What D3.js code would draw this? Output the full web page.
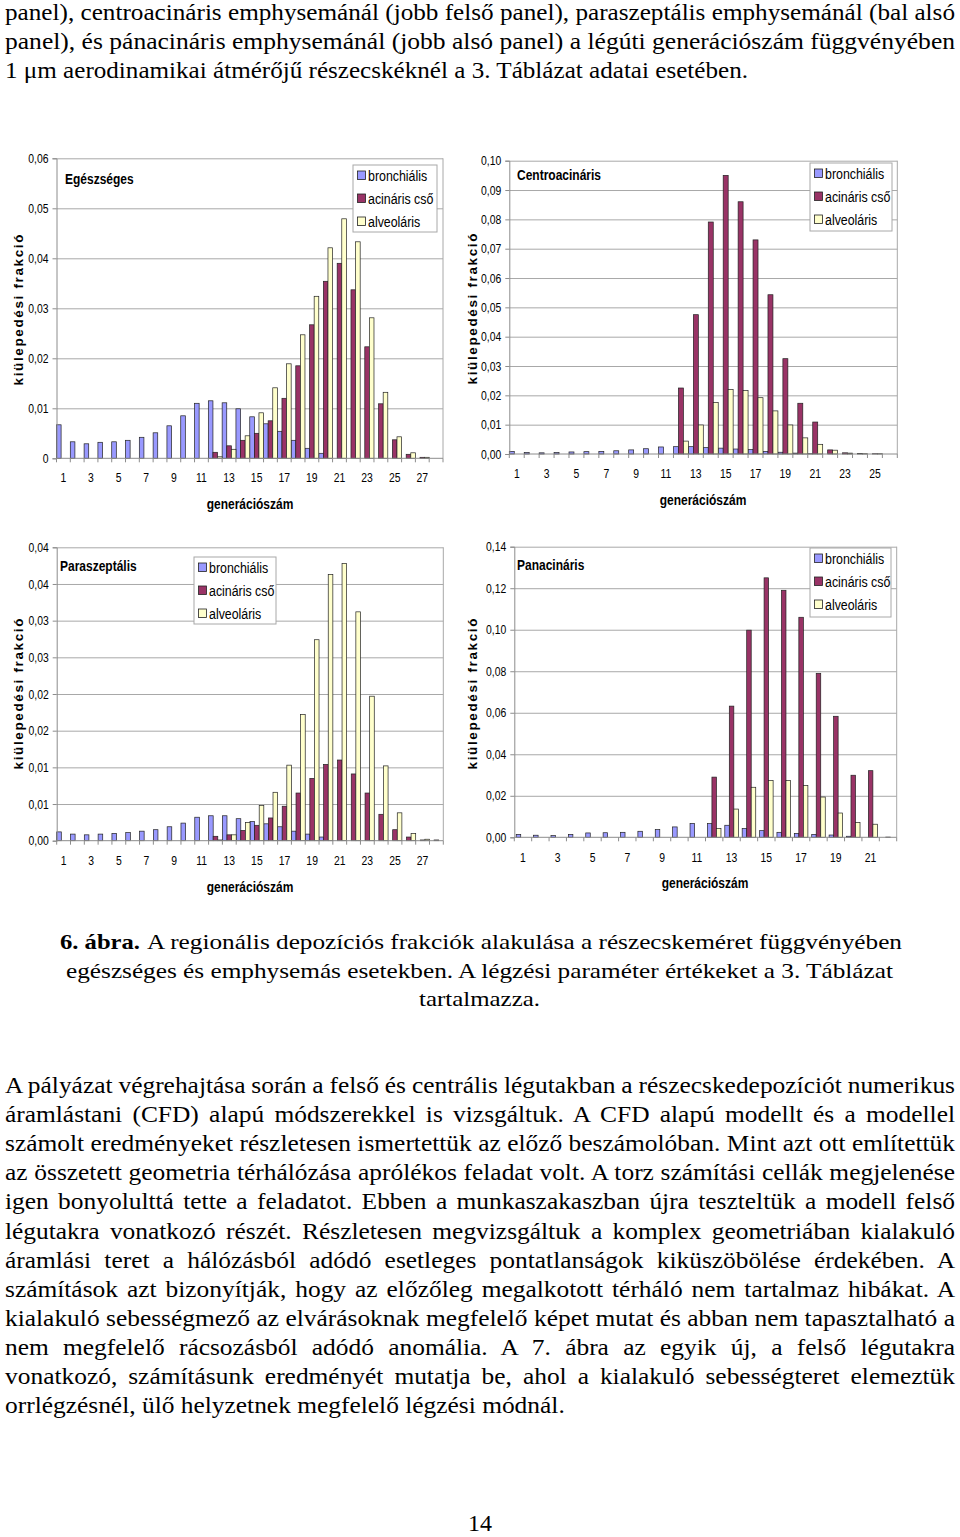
<!DOCTYPE html>
<html><head><meta charset="utf-8">
<script src="https://cdn.jsdelivr.net/npm/d3@7"></script>
<style>
html,body{margin:0;padding:0;background:#fff;}
svg{display:block;}
.serif{font-family:"Liberation Serif","Times New Roman",Times,serif;}
.sans{font-family:"Liberation Sans",Arial,Helvetica,sans-serif;}
</style></head>
<body>
<svg id="page" width="960" height="1537"></svg>
<script>
// ---------------- DATA ----------------
const seriesNames = ["bronchiális", "acináris cső", "alveoláris"];
const seriesColors = ["#9999FF", "#993366", "#FFFFCC"];

const catsHealthy = [1,2,3,4,5,6,7,8,9,10,11,12,13,14,15,16,17,18,19,20,21,22,23,24,25,26,27,28];
const healthyBronch = [0.0067,0.0033,0.0029,0.0032,0.0033,0.0036,0.0042,0.0051,0.0065,0.0085,0.0110,0.0115,0.0111,0.0099,0.0083,0.0069,0.0054,0.0036,0.0020,0.0010,0,0,0,0,0,0,0,0];
const healthyAcin  = [0,0,0,0,0,0,0,0,0,0,0,0.0012,0.0025,0.0036,0.0050,0.0075,0.0120,0.0185,0.0267,0.0354,0.0390,0.0337,0.0223,0.0109,0.0037,0.0008,0.0002,0];
const healthyAlv   = [0,0,0,0,0,0,0,0,0,0,0,0.0003,0.0018,0.0045,0.0091,0.0141,0.0189,0.0247,0.0324,0.0421,0.0479,0.0433,0.0281,0.0132,0.0043,0.0011,0.0002,0];
const healthyTicks = [0,0.01,0.02,0.03,0.04,0.05,0.06];
const healthyTickLabels = ["0","0,01","0,02","0,03","0,04","0,05","0,06"];

const catsCentro = [1,2,3,4,5,6,7,8,9,10,11,12,13,14,15,16,17,18,19,20,21,22,23,24,25,26];
const centroBronch = [0.0009,0.0005,0.0004,0.0005,0.0007,0.0008,0.0009,0.0011,0.0014,0.0018,0.0024,0.0025,0.0025,0.0022,0.0020,0.0017,0.0015,0.0009,0.0006,0.0003,0.0001,0,0,0,0,0];
const centroAcin   = [0,0,0,0,0,0,0,0,0,0,0,0.0225,0.0475,0.0791,0.0950,0.0860,0.0730,0.0543,0.0325,0.0173,0.0109,0.0014,0.0004,0.0002,0.0001,0];
const centroAlv    = [0,0,0,0,0,0,0,0,0,0,0,0.0044,0.0099,0.0176,0.0220,0.0216,0.0192,0.0147,0.0099,0.0055,0.0033,0.0013,0.0003,0.0001,0.0001,0];
const centroTicks = [0,0.01,0.02,0.03,0.04,0.05,0.06,0.07,0.08,0.09,0.10];
const centroTickLabels = ["0,00","0,01","0,02","0,03","0,04","0,05","0,06","0,07","0,08","0,09","0,10"];

const catsPara = [1,2,3,4,5,6,7,8,9,10,11,12,13,14,15,16,17,18,19,20,21,22,23,24,25,26,27,28];
const paraBronch = [0.0012,0.0009,0.0008,0.0009,0.0010,0.0011,0.0013,0.0015,0.0019,0.0024,0.0032,0.0034,0.0034,0.0030,0.0026,0.0023,0.0019,0.0013,0.0009,0.0005,0,0,0,0,0,0,0,0];
const paraAcin   = [0,0,0,0,0,0,0,0,0,0,0,0.0006,0.0008,0.0014,0.0021,0.0031,0.0047,0.0065,0.0085,0.0104,0.0110,0.0091,0.0065,0.0036,0.0015,0.0005,0.0001,0.0001];
const paraAlv    = [0,0,0,0,0,0,0,0,0,0,0,0.0001,0.0008,0.0025,0.0048,0.0066,0.0103,0.0172,0.0274,0.0363,0.0378,0.0312,0.0197,0.0102,0.0038,0.0010,0.0002,0];
const paraTicks = [0,0.005,0.01,0.015,0.02,0.025,0.03,0.035,0.04];
const paraTickLabels = ["0,00","0,01","0,01","0,02","0,02","0,03","0,03","0,04","0,04"];

const catsPan = [1,2,3,4,5,6,7,8,9,10,11,12,13,14,15,16,17,18,19,20,21,22];
const panBronch = [0.0014,0.0010,0.0008,0.0014,0.0021,0.0022,0.0024,0.0029,0.0037,0.0050,0.0067,0.0066,0.0058,0.0043,0.0032,0.0024,0.0019,0.0014,0.0011,0.0005,0,0];
const panAcin   = [0,0,0,0,0,0,0,0,0,0,0,0.0290,0.0632,0.0998,0.1250,0.1190,0.1060,0.0790,0.0583,0.0299,0.0321,0.0001];
const panAlv    = [0,0,0,0,0,0,0,0,0,0,0,0.0043,0.0136,0.0241,0.0273,0.0273,0.0250,0.0194,0.0117,0.0072,0.0063,0];
const panTicks = [0,0.02,0.04,0.06,0.08,0.10,0.12,0.14];
const panTickLabels = ["0,00","0,02","0,04","0,06","0,08","0,10","0,12","0,14"];

const yAxisTitle = "kiülepedési frakció";
const xAxisTitle = "generációszám";

const topLines = [
  "panel), centroacináris emphysemánál (jobb felső panel), paraszeptális emphysemánál (bal alsó",
  "panel), és pánacináris emphysemánál (jobb alsó panel) a légúti generációszám függvényében",
  "1 μm aerodinamikai átmérőjű részecskéknél a 3. Táblázat adatai esetében."
];
const captionBold = "6. ábra.";
const captionLines = [
  "A regionális depozíciós frakciók alakulása a részecskeméret függvényében",
  "egészséges és emphysemás esetekben. A légzési paraméter értékeket a 3. Táblázat",
  "tartalmazza."
];
const paraLines = [
  "A pályázat végrehajtása során a felső és centrális légutakban a részecskedepozíciót numerikus",
  "áramlástani (CFD) alapú módszerekkel is vizsgáltuk. A CFD alapú modellt és a modellel",
  "számolt eredményeket részletesen ismertettük az előző beszámolóban. Mint azt ott említettük",
  "az összetett geometria térhálózása aprólékos feladat volt. A torz számítási cellák megjelenése",
  "igen bonyolulttá tette a feladatot. Ebben a munkaszakaszban újra teszteltük a modell felső",
  "légutakra vonatkozó részét. Részletesen megvizsgáltuk a komplex geometriában kialakuló",
  "áramlási teret a hálózásból adódó esetleges pontatlanságok kiküszöbölése érdekében. A",
  "számítások azt bizonyítják, hogy az előzőleg megalkotott térháló nem tartalmaz hibákat. A",
  "kialakuló sebességmező az elvárásoknak megfelelő képet mutat és abban nem tapasztalható a",
  "nem megfelelő rácsozásból adódó anomália. A 7. ábra az egyik új, a felső légutakra",
  "vonatkozó, számításunk eredményét mutatja be, ahol a kialakuló sebességteret elemeztük",
  "orrlégzésnél, ülő helyzetnek megfelelő légzési módnál."
];
const pageNumber = "14";

// ---------------- LAYOUT ----------------
const svg = d3.select("#page");
const NX = 0.8; // horizontal condensation for Arial-Narrow-like chart text

function ntext(parent, x, y, str, size, weight, anchor) {
  return parent.append("text").attr("class", "sans")
    .attr("transform", `translate(${x},${y}) scale(${NX},1)`)
    .style("font-size", size + "px")
    .style("font-weight", weight || "normal")
    .attr("text-anchor", anchor || "start")
    .attr("fill", "#000")
    .text(str);
}

const panels = [
  { title: "Egészséges", cats: catsHealthy, data: [healthyBronch, healthyAcin, healthyAlv],
    ticks: healthyTicks, tickLabels: healthyTickLabels, ymax: 0.06, pad: 0,
    plot: {l: 56.5, r: 443, t: 158.3, b: 458.3},
    titlePos: [65, 184], legend: {x: 353, y: 165, w: 84, h: 67},
    xLabY: 482, xTitleY: 509, xTitleX: 250, yTitle: [23, 310] },
  { title: "Centroacináris", cats: catsCentro, data: [centroBronch, centroAcin, centroAlv],
    ticks: centroTicks, tickLabels: centroTickLabels, ymax: 0.10, pad: 0,
    plot: {l: 509.3, r: 897.3, t: 160.7, b: 454},
    titlePos: [517, 180], legend: {x: 810, y: 163, w: 82, h: 68},
    xLabY: 478, xTitleY: 505, xTitleX: 703, yTitle: [477, 309] },
  { title: "Paraszeptális", cats: catsPara, data: [paraBronch, paraAcin, paraAlv],
    ticks: paraTicks, tickLabels: paraTickLabels, ymax: 0.04, pad: 0,
    plot: {l: 56.7, r: 443.3, t: 547.3, b: 840.7},
    titlePos: [60, 571], legend: {x: 194, y: 557, w: 82, h: 67},
    xLabY: 865, xTitleY: 892, xTitleX: 250, yTitle: [23, 694] },
  { title: "Panacináris", cats: catsPan, data: [panBronch, panAcin, panAlv],
    ticks: panTicks, tickLabels: panTickLabels, ymax: 0.14, pad: 0.22,
    plot: {l: 514.3, r: 896.7, t: 546.7, b: 837.3},
    titlePos: [517, 570], legend: {x: 810, y: 548, w: 81, h: 69},
    xLabY: 862, xTitleY: 888, xTitleX: 705, yTitle: [477, 694] }
];

const GRID = "#a8a8a8";
const AXIS = "#8c8c8c";

panels.forEach(p => {
  const g = svg.append("g");
  const {l, r, t, b} = p.plot;
  const x = d3.scaleBand().domain(p.cats).range([l, r]).paddingInner(p.pad).paddingOuter(p.pad / 2);
  const x1 = d3.scaleBand().domain(seriesNames).range([0, x.bandwidth()]);
  const y = d3.scaleLinear().domain([0, p.ymax]).range([b, t]);

  // gridlines
  g.append("g").attr("transform", `translate(${l},0)`)
    .call(d3.axisLeft(y).tickValues(p.ticks.slice(1)).tickSize(-(r - l)).tickFormat(""))
    .call(s => s.select(".domain").remove())
    .selectAll("line").attr("stroke", GRID).attr("stroke-width", 1);
  // right border
  g.append("line").attr("x1", r).attr("x2", r).attr("y1", t).attr("y2", b)
    .attr("stroke", GRID).attr("stroke-width", 1);

  // bars
  p.data.forEach((vals, si) => {
    g.append("g").selectAll("rect")
      .data(p.cats.map((c, i) => ({c, v: vals[i]})).filter(d => d.v > 0))
      .join("rect")
      .attr("x", d => x(d.c) + x1(seriesNames[si]))
      .attr("width", x1.bandwidth())
      .attr("y", d => y(d.v))
      .attr("height", d => y(0) - y(d.v))
      .attr("fill", seriesColors[si])
      .attr("stroke", "#222").attr("stroke-width", 0.7);
  });

  // y axis
  const ya = g.append("g").attr("transform", `translate(${l},0)`)
    .call(d3.axisLeft(y).tickValues(p.ticks).tickSize(4).tickPadding(4)
      .tickFormat((d, i) => p.tickLabels[i]));
  ya.attr("font-family", null).attr("font-size", null);
  ya.select(".domain").attr("stroke", AXIS);
  ya.selectAll(".tick line").attr("stroke", AXIS);
  ya.selectAll("text").attr("class", "sans")
    .style("font-size", "13px").attr("fill", "#000")
    .attr("x", -8 / NX).attr("transform", `scale(${NX},1)`);

  // x axis line + boundary ticks
  g.append("line").attr("x1", l).attr("x2", r).attr("y1", b).attr("y2", b).attr("stroke", AXIS);
  const gapHalf = (x.step() - x.bandwidth()) / 2;
  g.append("g").selectAll("line").data(p.cats).join("line")
    .attr("x1", d => x(d) - gapHalf).attr("x2", d => x(d) - gapHalf)
    .attr("y1", b).attr("y2", b + 4).attr("stroke", AXIS);
  g.append("line").attr("x1", r).attr("x2", r).attr("y1", b).attr("y2", b + 4).attr("stroke", AXIS);

  // x tick labels (odd categories)
  p.cats.filter(c => c % 2 === 1).forEach(c => {
    ntext(g, x(c) + x.bandwidth() / 2, p.xLabY, String(c), 13, "normal", "middle");
  });

  // axis titles
  ntext(g, p.xTitleX, p.xTitleY, xAxisTitle, 15, "bold", "middle");
  g.append("text").attr("class", "sans")
    .attr("transform", `translate(${p.yTitle[0]},${p.yTitle[1]}) rotate(-90)`)
    .style("font-size", "13.5px").style("font-weight", "bold")
    .attr("text-anchor", "middle")
    .attr("textLength", 151).attr("lengthAdjust", "spacing")
    .text(yAxisTitle);

  // title
  ntext(g, p.titlePos[0], p.titlePos[1], p.title, 15, "bold", "start");

  // legend
  const L = p.legend;
  g.append("rect").attr("x", L.x).attr("y", L.y).attr("width", L.w).attr("height", L.h)
    .attr("fill", "#fff").attr("stroke", GRID).attr("stroke-width", 1);
  seriesNames.forEach((s, i) => {
    const cy = L.y + 10.5 + i * 23;
    g.append("rect").attr("x", L.x + 4.5).attr("y", cy - 4.5).attr("width", 8).attr("height", 8.5)
      .attr("fill", seriesColors[i]).attr("stroke", "#222").attr("stroke-width", 0.8);
    ntext(g, L.x + 15, cy + 5.2, s, 15.5, "normal", "start");
  });
});

// ---------------- TEXT ----------------
const topBase = [20, 49, 78];
const topWidths = [950, 950, 743];
topLines.forEach((s, i) => {
  svg.append("text").attr("class", "serif").attr("x", 5).attr("y", topBase[i])
    .style("font-size", "24px")
    .attr("textLength", topWidths[i]).attr("lengthAdjust", "spacingAndGlyphs")
    .text(s);
});

// caption
svg.append("text").attr("class", "serif").attr("x", 60).attr("y", 949)
  .style("font-size", "22px").style("font-weight", "bold")
  .attr("textLength", 80).attr("lengthAdjust", "spacingAndGlyphs").text(captionBold);
const capX = [147, 66, 419], capW = [755, 827, 121], capY = [949, 978, 1006];
captionLines.forEach((s, i) => {
  svg.append("text").attr("class", "serif").attr("x", capX[i]).attr("y", capY[i])
    .style("font-size", "22px")
    .attr("textLength", capW[i]).attr("lengthAdjust", "spacingAndGlyphs").text(s);
});

// paragraph, justified via word-spacing; glyphs slightly widened to match the reference
const PF = 22.5;
const lastLine = svg.append("text").attr("class", "serif").style("font-size", PF + "px")
  .attr("x", 0).attr("y", -100).text(paraLines[paraLines.length - 1]);
const SX = 560 / lastLine.node().getComputedTextLength();
lastLine.remove();
paraLines.forEach((s, i) => {
  const t = svg.append("text").attr("class", "serif")
    .attr("transform", `translate(5,${1093 + i * 29.1}) scale(${SX},1)`)
    .style("font-size", PF + "px").text(s);
  if (i < paraLines.length - 1) {
    const w = t.node().getComputedTextLength();
    const n = (s.match(/ /g) || []).length;
    t.style("word-spacing", ((950 / SX - w) / n) + "px");
  }
});

svg.append("text").attr("class", "serif").attr("x", 480).attr("y", 1531).attr("text-anchor", "middle")
  .style("font-size", "24px").text(pageNumber);
</script>
</body></html>
